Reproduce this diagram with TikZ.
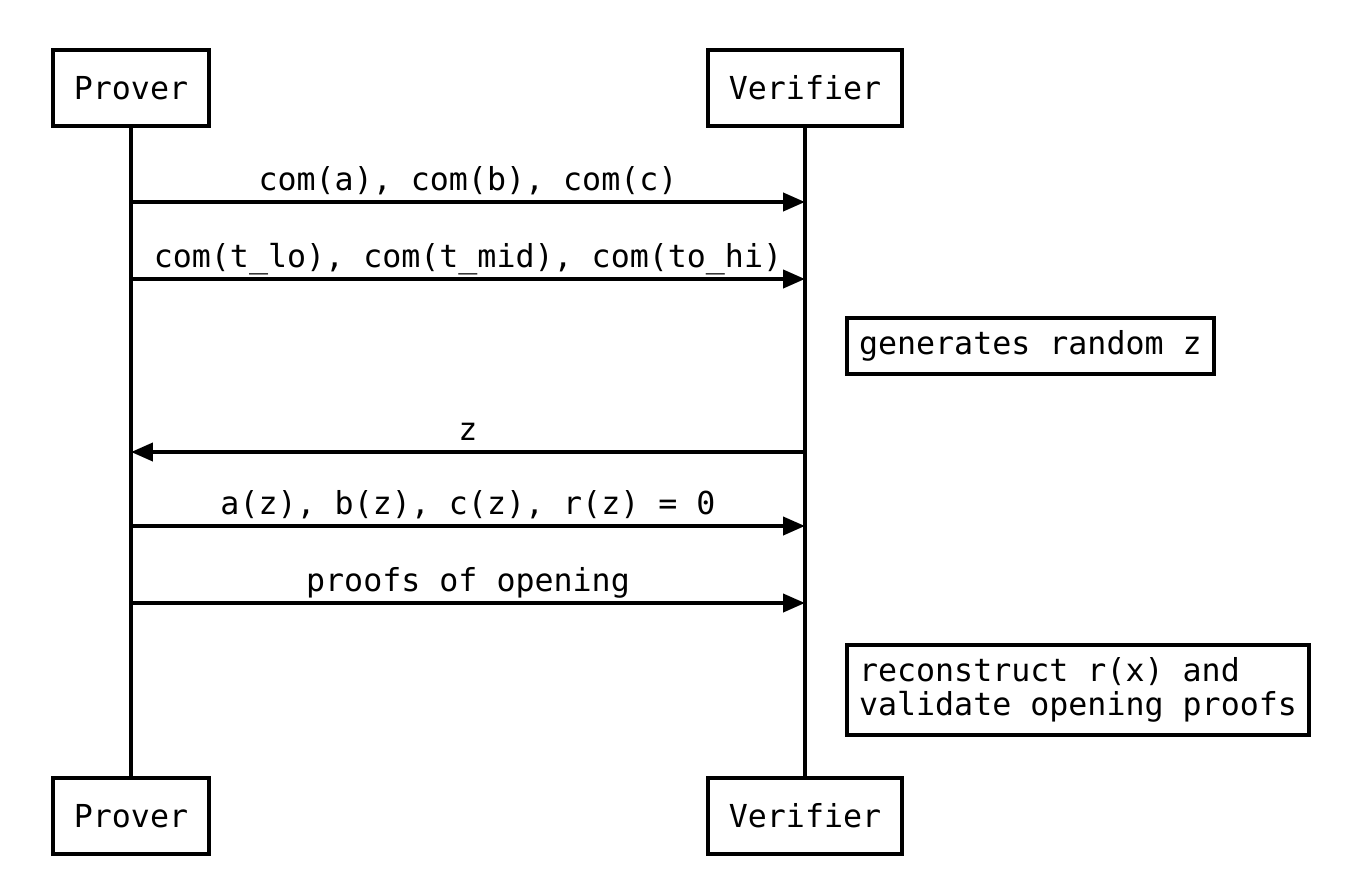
\documentclass[tikz,border=0pt]{standalone}
\usepackage{fontspec}
\newfontfamily\seqfont{DejaVu Sans Mono}
\usetikzlibrary{arrows.meta}

\begin{document}
\begin{tikzpicture}[
		x=0.02cm, y=-0.02cm,
		every node/.style={font=\seqfont\fontsize{18pt}{19.4pt}\selectfont},
		actor/.style={draw, line width=2.3pt, minimum height=1.52cm, inner xsep=0.42cm},
		lifeline/.style={line width=2.3pt},
		msg/.style={line width=2.3pt, -{Triangle[length=0.44cm, width=0.36cm]}},
		lbl/.style={above=0.1cm, inner sep=0pt, text height=0.75em, text depth=0.25em},
		note/.style={draw, line width=2.3pt, anchor=west, align=left, inner xsep=0.24cm, inner ysep=0.26cm}
		]
		
		\useasboundingbox (0,0) rectangle (1364,872);
		
		% Draw actors
		\node[actor] (proverTop) at (131,88) {Prover};
		\node[actor] (verifierTop) at (805,88) {Verifier};
		\node[actor] (proverBot) at (131,816) {Prover};
		\node[actor] (verifierBot) at (805,816) {Verifier};
		
		% Draw lifelines
		\draw[lifeline] (proverTop) -- (proverBot);
		\draw[lifeline] (verifierTop) -- (verifierBot);
		
		% Message end points
		\foreach \name/\y in {a/202, b/279, c/452, d/526, e/603} {
			\coordinate (p\name) at (131,\y);
			\coordinate (v\name) at (805,\y);
		}
		
		% Draw messages
		\draw[msg] (pa) -- node[lbl] {com(a), com(b), com(c)} (va);
		\draw[msg] (pb) -- node[lbl] {com(t\_lo), com(t\_mid), com(to\_hi)} (vb);
		\draw[msg] (vc) -- node[lbl] {z} (pc);
		\draw[msg] (pd) -- node[lbl] {a(z), b(z), c(z), r(z) = 0} (vd);
		\draw[msg] (pe) -- node[lbl] {proofs of opening} (ve);
		
		% Draw notes
		\node[note] (randNote) at (845,346) {generates random z};
		\node[note] (checkNote) at (845,690) {reconstruct r(x) and\\validate opening proofs};
		
	\end{tikzpicture}
\end{document}
